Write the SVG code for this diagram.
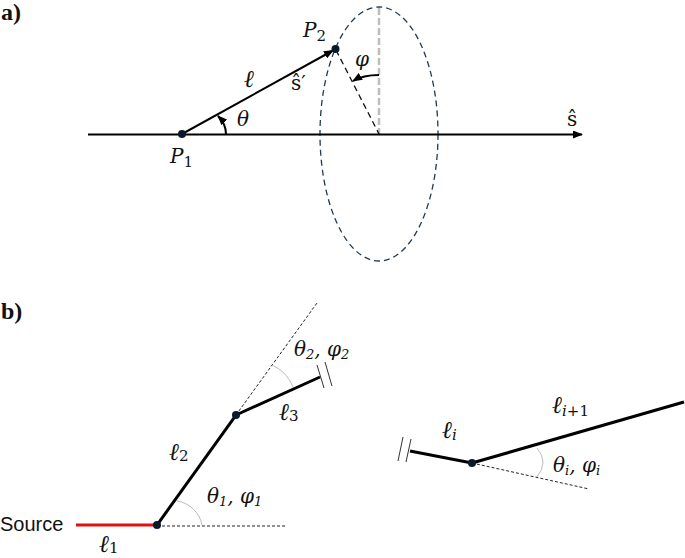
<svg xmlns="http://www.w3.org/2000/svg" width="685" height="558" viewBox="0 0 685 558">
<style>
.m{font-family:"DejaVu Serif","Liberation Serif",serif;font-size:20px;fill:#111}
.i{font-style:italic}
.l{font-size:24px}
.s{font-size:15px;font-style:normal}
.si{font-size:15px;font-style:italic}
.t{font-size:13px}
.h{font-family:"Liberation Serif",serif;font-weight:bold;font-size:24px;fill:#111}
.th{stroke:#000;stroke-width:3;fill:none}
.ax{stroke:#000;stroke-width:2;fill:none}
.dot{stroke:#222;stroke-width:1;stroke-dasharray:3 2;fill:none}
.tick{stroke:#333;stroke-width:1;fill:none}
.arc{stroke:#bbb;stroke-width:1;fill:none}
.n{fill:#0a1a2a}
</style>
<defs>
<marker id="a" markerWidth="10" markerHeight="8" refX="9" refY="4" orient="auto" markerUnits="userSpaceOnUse"><path d="M0 0L10 4L0 8Z" fill="#000"/></marker>
</defs>
<g id="connectors">
<ellipse cx="379" cy="134" rx="59" ry="127" fill="none" stroke="#1f3a52" stroke-width="1.3" stroke-dasharray="6 4"/>
<path d="M379 8V134" stroke="#bdbdbd" stroke-width="2.500" stroke-dasharray="7 3" fill="none"/>
<path d="M336 50L379 134" stroke="#111" stroke-width="1.300" stroke-dasharray="6 4" fill="none"/>
<path d="M88 134.500H582" class="ax" marker-end="url(#a)"/>
<path d="M182 134L333 50.500" class="ax" marker-end="url(#a)"/>
<path d="M226 134Q226 124 218 116" class="ax" marker-end="url(#a)"/>
<path d="M379 75Q363 75 353 81" class="ax" marker-end="url(#a)"/>
<path d="M76 525H157" stroke="#e01010" stroke-width="3" fill="none"/>
<path d="M157 526H285" class="dot"/>
<path d="M157 525L236 415" class="th"/>
<path d="M236 415L320 377" class="th"/>
<path d="M236 415L317 303" class="dot"/>
<path d="M317 365L324 388M325 362L332 386" class="tick"/>
<path d="M272 365A40 40 0 0 1 293 387" class="arc"/>
<path d="M177 501A30 30 0 0 1 202 525" class="arc"/>
<path d="M472 463L684 402" class="th"/>
<path d="M472 463L410 451" class="th"/>
<path d="M472 463L589 489" class="dot"/>
<path d="M403 437L398 461M411 439L406 462" class="tick"/>
<path d="M537 448Q549 462 537 477" class="arc"/>
</g>
<g id="panel-a-label"><text class="h" x="1" y="20">a)</text></g>
<g id="panel-b-label"><text class="h" x="1" y="319">b)</text></g>
<g id="node-p1"><circle class="n" cx="182" cy="134" r="4"/><text class="m i" x="170" y="163">P<tspan class="s" dy="4">1</tspan></text></g>
<g id="node-p2"><circle class="n" cx="335.500" cy="49" r="4"/><text class="m i" x="303" y="37">P<tspan class="s" dy="4">2</tspan></text></g>
<g id="label-l"><text class="m i l" x="244" y="87">ℓ</text></g>
<g id="label-sprime"><text class="m" x="291" y="90">ŝ′</text></g>
<g id="label-theta"><text class="m i" x="237" y="126">θ</text></g>
<g id="label-phi"><text class="m i" x="355" y="66">φ</text></g>
<g id="label-s"><text class="m" x="567" y="126">ŝ</text></g>
<g id="node-source"><circle class="n" cx="157" cy="525" r="4"/><text x="0" y="531" font-family="Liberation Sans,sans-serif" font-size="20" fill="#111">Source</text></g>
<g id="node-2"><circle class="n" cx="236" cy="415" r="4"/></g>
<g id="node-3"><circle class="n" cx="472" cy="463" r="4"/></g>
<g id="labels-b">
<text class="m i l" x="99" y="552">ℓ<tspan class="s" dy="1">1</tspan></text>
<text class="m i l" x="169" y="460">ℓ<tspan class="s" dy="1">2</tspan></text>
<text class="m i l" x="279" y="420">ℓ<tspan class="s" dy="1">3</tspan></text>
<text class="m i" x="207" y="503">θ<tspan class="t" dy="3">1</tspan><tspan dy="-3">, φ</tspan><tspan class="t" dy="3">1</tspan></text>
<text class="m i" x="294" y="356">θ<tspan class="t" dy="3">2</tspan><tspan dy="-3">, φ</tspan><tspan class="t" dy="3">2</tspan></text>
<text class="m i l" x="442" y="438">ℓ<tspan class="si" dy="2">i</tspan></text>
<text class="m i l" x="552" y="413">ℓ<tspan class="si" dy="3">i</tspan><tspan class="s">+1</tspan></text>
<text class="m i" x="553" y="472">θ<tspan class="t" dy="3">i</tspan><tspan dy="-3">, φ</tspan><tspan class="t" dy="3">i</tspan></text>
</g>
</svg>
